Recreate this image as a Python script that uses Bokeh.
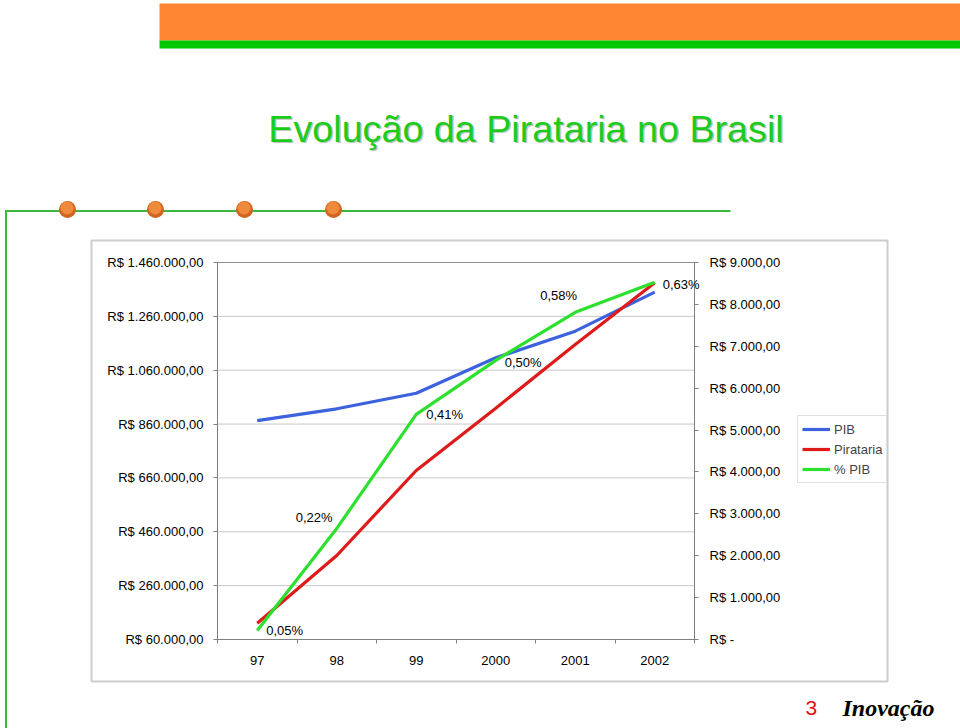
from bokeh.plotting import figure
from bokeh.models import (Range1d, LinearAxis, FixedTicker, LabelSet, Legend, LegendItem,
                          ColumnDataSource)
from bokeh.embed import file_html
from bokeh.resources import INLINE
from bokeh.core.properties import value

# ---------------- data ----------------
years = ["97", "98", "99", "2000", "2001", "2002"]
pib = [873000, 916700, 974600, 1106000, 1205000, 1350000]          # R$ (left axis)
pirataria = [389, 2005, 4034, 5521, 7042, 8515]                      # R$ (right axis)
pct_pib = [0.05, 0.22, 0.41, 0.50, 0.58, 0.63]                       # % PIB
pct_labels = ["0,05%", "0,22%", "0,41%", "0,50%", "0,58%", "0,63%"]

left_ticks = [60000, 260000, 460000, 660000, 860000, 1060000, 1260000, 1460000]
left_labels = ["R$ 60.000,00", "R$ 260.000,00", "R$ 460.000,00", "R$ 660.000,00",
               "R$ 860.000,00", "R$ 1.060.000,00", "R$ 1.260.000,00", "R$ 1.460.000,00"]
right_ticks = [0, 1000, 2000, 3000, 4000, 5000, 6000, 7000, 8000, 9000]
right_labels = ["R$ -", "R$ 1.000,00", "R$ 2.000,00", "R$ 3.000,00", "R$ 4.000,00",
                "R$ 5.000,00", "R$ 6.000,00", "R$ 7.000,00", "R$ 8.000,00", "R$ 9.000,00"]
pct_range = (0.035, 0.663)

title_text = "Evolução da Pirataria no Brasil"
series_names = ["PIB", "Pirataria", "% PIB"]

# ---------------- style / layout ----------------
FONT = "Liberation Sans"
BLUE, RED, GREEN = "#3D62DE", "#DE1A1A", "#2EE02E"
W, H = 960, 728
FL, FT, FR, FB = 217, 262, 694, 639          # plot area edges in canvas px
label_dx = [9, -41, 10, 9, -35, 8]
label_dy = [0, -11, 0, 2, -17, 2]

n = len(years)
xs = [i + 0.5 for i in range(n)]


def px_range(lo, hi, p_lo, p_hi, total):
    """Range over the whole canvas such that [lo, hi] lands on pixels [p_lo, p_hi]."""
    upp = (hi - lo) / (p_hi - p_lo)
    return Range1d(lo - p_lo * upp, hi + (total - p_hi) * upp)


def py_range(lo, hi):
    upp = (hi - lo) / (FB - FT)
    return Range1d(lo - (H - FB) * upp, hi + FT * upp)


p = figure(width=W, height=H, output_backend="svg", toolbar_location=None, title=None,
           x_range=Range1d(0, W), y_range=Range1d(H, 0),
           x_axis_location=None, y_axis_location=None, min_border=0)
p.grid.visible = False
p.outline_line_color = None
p.background_fill_color = "white"
p.border_fill_color = "white"
p.extra_x_ranges = {"cat": px_range(0, n, FL, FR, W)}
p.extra_y_ranges = {"pib": py_range(left_ticks[0], left_ticks[-1]),
                    "pir": py_range(right_ticks[0], right_ticks[-1]),
                    "pct": py_range(*pct_range)}

# ---------------- page decorations (canvas pixel coordinates) ----------------
p.quad(left=159, right=960, top=3, bottom=40, fill_color="#FF8533", line_color=None)
p.quad(left=159, right=960, top=40, bottom=48, fill_color="#00C800", line_color=None)
p.quad(left=6, right=730, top=209.5, bottom=211.5, fill_color="#3CB83C", line_color=None)
p.quad(left=4.5, right=6.5, top=209.5, bottom=728, fill_color="#3CB83C", line_color=None)
dots_x = [67, 155, 244, 333]
p.circle(x=dots_x, y=209, radius=8.5, fill_color="#D0661E", line_color=None)
p.circle(x=[d - 0.5 for d in dots_x], y=207.5, radius=6.5, fill_color="#EF8A3C", line_color=None)
p.quad(left=91, right=887, top=240, bottom=681, fill_color=None, line_color="#CCCCCC",
       line_width=2)

p.text(x=527, y=129.5, text=[title_text], text_align="center", text_baseline="middle",
       text_font=value(FONT), text_font_size="37.7px", text_color="#C4C4C4")
p.text(x=525.5, y=128, text=[title_text], text_align="center", text_baseline="middle",
       text_font=value(FONT), text_font_size="37.7px", text_color="#1BCC1B")
p.text(x=805, y=707, text=["3"], text_align="left", text_baseline="middle",
       text_font=value(FONT), text_font_size="21px", text_color="#E01010")
p.text(x=842, y=707, text=["Inovação"], text_align="left", text_baseline="middle",
       text_font=value("Liberation Serif"), text_font_size="24px",
       text_font_style="bold italic", text_color="black")

# ---------------- chart ----------------
p.quad(left=0, right=n, bottom=left_ticks[0], top=left_ticks[-1], x_range_name="cat",
       y_range_name="pib", fill_color="white", line_color="#909090", line_width=1)
p.segment(x0=0, x1=n, y0=left_ticks[1:-1], y1=left_ticks[1:-1], x_range_name="cat",
          y_range_name="pib", line_color="#C8C8C8", line_width=1)

r_pib = p.line(xs, pib, line_width=3.2, color=BLUE, x_range_name="cat", y_range_name="pib")
r_pir = p.line(xs, pirataria, line_width=3.2, color=RED, x_range_name="cat", y_range_name="pir")
r_pct = p.line(xs, pct_pib, line_width=3.2, color=GREEN, x_range_name="cat", y_range_name="pct")

src = ColumnDataSource(dict(x=xs, y=pct_pib, t=pct_labels, dx=label_dx,
                            dy=[-d for d in label_dy]))
p.add_layout(LabelSet(x="x", y="y", text="t", source=src, x_range_name="cat",
                      y_range_name="pct", x_offset="dx", y_offset="dy",
                      text_font=value(FONT), text_font_size="13px", text_baseline="middle",
                      text_align="left", text_color="black"))


def style_axis(ax, tick_out, standoff):
    ax.major_tick_out = tick_out
    ax.major_tick_in = 0
    ax.minor_tick_in = 0
    ax.major_tick_line_color = "#808080"
    ax.minor_tick_line_color = "#808080"
    ax.axis_line_color = "#808080"
    ax.major_label_standoff = standoff
    ax.major_label_text_font = FONT
    ax.major_label_text_font_size = "13px"
    ax.major_label_text_color = "black"


xa = LinearAxis(x_range_name="cat", y_range_name="pib", fixed_location=left_ticks[0],
                bounds=(0, n), ticker=FixedTicker(ticks=xs, minor_ticks=list(range(n + 1))))
xa.major_label_overrides = {x: y for x, y in zip(xs, years)}
style_axis(xa, 0, 12)
xa.minor_tick_out = 4
p.add_layout(xa, "below")

la = LinearAxis(x_range_name="cat", y_range_name="pib", fixed_location=0,
                bounds=(left_ticks[0], left_ticks[-1]),
                ticker=FixedTicker(ticks=left_ticks, minor_ticks=[]))
la.major_label_overrides = {t: l for t, l in zip(left_ticks, left_labels)}
style_axis(la, 4, 10)
p.add_layout(la, "left")

ra = LinearAxis(x_range_name="cat", y_range_name="pir", fixed_location=n,
                bounds=(right_ticks[0], right_ticks[-1]),
                ticker=FixedTicker(ticks=right_ticks, minor_ticks=[]))
ra.major_label_overrides = {t: l for t, l in zip(right_ticks, right_labels)}
style_axis(ra, 4, 11)
p.add_layout(ra, "right")

legend = Legend(items=[LegendItem(label=series_names[0], renderers=[r_pib]),
                       LegendItem(label=series_names[1], renderers=[r_pir]),
                       LegendItem(label=series_names[2], renderers=[r_pct])],
                location=(797, H - 483), margin=0, padding=4, spacing=2,
                glyph_width=28, glyph_height=18, label_height=18, label_standoff=4,
                label_text_font=FONT, label_text_font_size="13px",
                border_line_color="#C0C0C0", border_line_width=1,
                background_fill_color="white", background_fill_alpha=1)
p.add_layout(legend, "center")

open("out.html", "w").write(file_html(p, INLINE))
